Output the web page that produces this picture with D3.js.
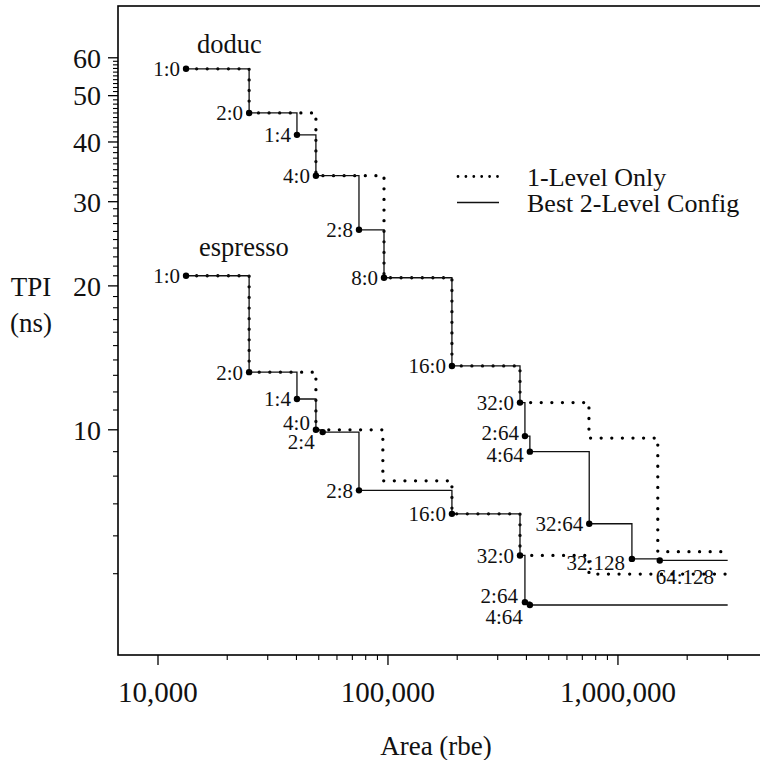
<!DOCTYPE html>
<html><head><meta charset="utf-8">
<script src="https://cdn.jsdelivr.net/npm/d3@7"></script>
<style>body{margin:0;background:#fff}svg{display:block}text{font-family:"Liberation Serif","Times New Roman",serif;fill:#111}</style>
</head><body><svg id="c" width="760" height="760"></svg>
<script>
// ---- data ----
const xMajorTicks = [10000, 100000, 1000000];
const xMinorTicks = [20000,30000,40000,50000,60000,70000,80000,90000,200000,300000,400000,500000,600000,700000,800000,900000,2000000,3000000];
const yMajorTicks = [10, 20, 30, 40, 50, 60];
const yMinorTicks = [5,6,7,8,9,11,12,13,14,15,16,17,18,19,21,22,23,24,25,26,27,28,29,31,32,33,34,35,36,37,38,39,41,42,43,44,45,46,47,48,49,51,52,53,54,55,56,57,58,59];
const endArea = 3000000;

const doducBestArea  = [13240, 24900, 40200, 48600, 74800, 96100, 189700, 375000, 394000, 414000, 750000, 1150000, 1520000];
const doducBestTPI   = [56.9, 46.0, 41.4, 34.0, 26.2, 20.8, 13.6, 11.4, 9.7, 9.0, 6.36, 5.37, 5.33];
const doducBestLabel = ["1:0","2:0","1:4","4:0","2:8","8:0","16:0","32:0","2:64","4:64","32:64","32:128","64:128"];
const doducOneArea   = [13240, 24900, 48600, 96100, 189700, 375000, 748000, 1490000];
const doducOneTPI    = [56.9, 46.0, 34.0, 20.8, 13.6, 11.4, 9.61, 5.56];

const espBestArea  = [13240, 24900, 40200, 48600, 52000, 74800, 189700, 375000, 394000, 414000];
const espBestTPI   = [21.0, 13.2, 11.6, 10.0, 9.89, 7.47, 6.67, 5.46, 4.36, 4.30];
const espBestLabel = ["1:0","2:0","1:4","4:0","2:4","2:8","16:0","32:0","2:64","4:64"];
const espOneArea   = [13240, 24900, 48600, 95000, 189700, 375000, 748000];
const espOneTPI    = [21.0, 13.2, 10.0, 7.82, 6.67, 5.46, 4.99];

const seriesNames = ["doduc", "espresso"];
const legendLabels = ["1-Level Only", "Best 2-Level Config"];
const xTitle = "Area (rbe)";
const yTitle = ["TPI", "(ns)"];

// ---- layout ----
const L = 118, R = 762, T = 6, B = 655;
const svg = d3.select("#c");
const x = d3.scaleLog().domain([6700, 4230000]).range([L, R]);
const y = d3.scaleLog().domain([3.38, 77.0]).range([B, T]);

// frame
svg.append("rect").attr("x", L).attr("y", T).attr("width", R - L).attr("height", B - T)
  .attr("fill", "none").attr("stroke", "#000").attr("stroke-width", 1.6);

// x axis ticks
const fmt = d3.format(",");
const xg = svg.append("g");
xMajorTicks.forEach(v => {
  xg.append("line").attr("x1", x(v)).attr("x2", x(v)).attr("y1", B).attr("y2", B + 10).attr("stroke", "#000").attr("stroke-width", 1.3);
  xg.append("text").attr("x", x(v)).attr("y", B + 47).attr("text-anchor", "middle").attr("font-size", 29).text(fmt(v));
});
xMinorTicks.forEach(v => {
  xg.append("line").attr("x1", x(v)).attr("x2", x(v)).attr("y1", B).attr("y2", B + 5).attr("stroke", "#000").attr("stroke-width", 1.1);
});
// y axis ticks
yMajorTicks.forEach(v => {
  svg.append("line").attr("x1", L - 10).attr("x2", L).attr("y1", y(v)).attr("y2", y(v)).attr("stroke", "#000").attr("stroke-width", 1.3);
  svg.append("text").attr("x", L - 17).attr("y", y(v)).attr("dy", "0.35em").attr("text-anchor", "end").attr("font-size", 28).text(v);
});
yMinorTicks.forEach(v => {
  svg.append("line").attr("x1", L - 5).attr("x2", L).attr("y1", y(v)).attr("y2", y(v)).attr("stroke", "#000").attr("stroke-width", 1.1);
});

// titles
svg.append("text").attr("x", 436).attr("y", 755).attr("text-anchor", "middle").attr("font-size", 27).text(xTitle);
svg.append("text").attr("x", 31).attr("y", 296).attr("text-anchor", "middle").attr("font-size", 27).text(yTitle[0]);
svg.append("text").attr("x", 31).attr("y", 332).attr("text-anchor", "middle").attr("font-size", 27).text(yTitle[1]);

// step path helper
function stepPts(areas, tpis) {
  const pts = areas.map((a, i) => [a, tpis[i]]);
  pts.push([endArea, tpis[tpis.length - 1]]);
  return pts;
}
const stepLine = d3.line().x(d => x(d[0])).y(d => y(d[1])).curve(d3.curveStepAfter);

function dotted(areas, tpis) {
  svg.append("path").attr("d", stepLine(stepPts(areas, tpis))).attr("fill", "none")
    .attr("stroke", "#000").attr("stroke-width", 3.3).attr("stroke-linecap", "round")
    .attr("stroke-dasharray", "0,10.6");
}
function solid(areas, tpis) {
  svg.append("path").attr("d", stepLine(stepPts(areas, tpis))).attr("fill", "none")
    .attr("stroke", "#111").attr("stroke-width", 1.3);
}
dotted(doducOneArea, doducOneTPI);
dotted(espOneArea, espOneTPI);
solid(doducBestArea, doducBestTPI);
solid(espBestArea, espBestTPI);

// markers + labels
const labelOffsets = {
  "esp:4:0": [-6, -7, "end"], "esp:2:4": [-8, 10, "end"], "esp:2:64": [-7, -6, "end"], "esp:4:64": [-7, 12, "end"],
  "dod:2:64": [-6, -3, "end"], "dod:4:64": [-6, 3, "end"],
  "dod:32:128": [-7, 4, "end"], "dod:64:128": [-4, 16, "start"]
};
function marks(areas, tpis, labels, key) {
  areas.forEach((a, i) => {
    svg.append("circle").attr("cx", x(a)).attr("cy", y(tpis[i])).attr("r", 3.2).attr("fill", "#000");
    const off = labelOffsets[key + ":" + labels[i]] || [-6, 0, "end"];
    svg.append("text").attr("x", x(a) + off[0]).attr("y", y(tpis[i]) + off[1]).attr("dy", "0.35em")
      .attr("text-anchor", off[2]).attr("font-size", 21).text(labels[i]);
  });
}
marks(doducBestArea, doducBestTPI, doducBestLabel, "dod");
marks(espBestArea, espBestTPI, espBestLabel, "esp");

// series names
svg.append("text").attr("x", 197).attr("y", 53).attr("font-size", 26.5).text(seriesNames[0]);
svg.append("text").attr("x", 199).attr("y", 256).attr("font-size", 26.5).text(seriesNames[1]);

// legend
svg.append("line").attr("x1", 458).attr("x2", 498).attr("y1", 176.5).attr("y2", 176.5)
  .attr("stroke", "#000").attr("stroke-width", 2.8).attr("stroke-linecap", "round").attr("stroke-dasharray", "0,7.9");
svg.append("line").attr("x1", 457).attr("x2", 499).attr("y1", 202.5).attr("y2", 202.5).attr("stroke", "#111").attr("stroke-width", 1.3);
svg.append("text").attr("x", 527).attr("y", 176.5).attr("dy", "0.35em").attr("font-size", 26).text(legendLabels[0]);
svg.append("text").attr("x", 527).attr("y", 202.5).attr("dy", "0.35em").attr("font-size", 26).text(legendLabels[1]);
</script></body></html>
